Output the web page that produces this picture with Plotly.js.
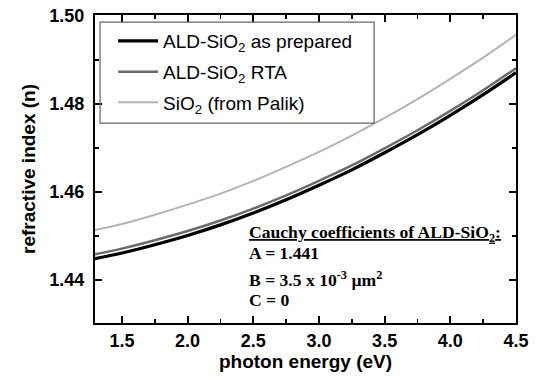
<!DOCTYPE html>
<html>
<head>
<meta charset="utf-8">
<script src="https://cdn.plot.ly/plotly-3.0.1.min.js"></script>
<style>html,body{margin:0;padding:0;background:#fff;}#chart{width:537px;height:378px;}</style>
</head>
<body>
<div id="chart"></div>
<script>
// photon energy (eV)
const energy = [1.29, 1.5, 1.75, 2.0, 2.25, 2.5, 2.75, 3.0, 3.25, 3.5, 3.75, 4.0, 4.25, 4.5];
// refractive index
const nAsPrepared = [1.4448, 1.4461, 1.4480, 1.4501, 1.4525, 1.4552, 1.4582, 1.4615, 1.4650, 1.4689, 1.4730, 1.4774, 1.4821, 1.4871];
const nRTA        = [1.4458, 1.4471, 1.4490, 1.4511, 1.4535, 1.4562, 1.4592, 1.4625, 1.4660, 1.4699, 1.4740, 1.4784, 1.4831, 1.4881];
const nPalik      = [1.4513, 1.4527, 1.4548, 1.4571, 1.4596, 1.4625, 1.4657, 1.4691, 1.4728, 1.4768, 1.4811, 1.4857, 1.4905, 1.4957];

const seriesNames = ['ALD-SiO<sub>2</sub> as prepared', 'ALD-SiO<sub>2</sub> RTA', 'SiO<sub>2</sub> (from Palik)'];
const noteLines = [
  '<u>Cauchy coefficients of ALD-SiO<sub>2</sub>:</u>',
  'A = 1.441',
  'B = 3.5 x 10<sup>-3</sup> µm<sup>2</sup>',
  'C = 0'
];

const traces = [
  {x: energy, y: nAsPrepared, name: seriesNames[0], mode: 'lines', line: {color: '#000000', width: 3.2, shape: 'spline'}, legendgroup: 'a'},
  {x: energy, y: nRTA, name: seriesNames[1], mode: 'lines', line: {color: '#6b6b6b', width: 2.5, shape: 'spline'}, legendgroup: 'b'},
  {x: energy, y: nPalik, name: seriesNames[2], mode: 'lines', line: {color: '#b4b4b4', width: 2, shape: 'spline'}, legendgroup: 'c'}
];

const tickFont = {family: 'Liberation Sans, Arial, sans-serif', size: 18, color: '#000', weight: 'bold'};
const titleFont = {family: 'Liberation Sans, Arial, sans-serif', size: 19, color: '#000', weight: 'bold'};

const noteY = [0.292, 0.227, 0.143, 0.075];
const annotations = noteLines.map((t, i) => ({
  text: t, xref: 'paper', yref: 'paper', x: 0.361, y: noteY[i],
  xanchor: 'left', yanchor: 'middle', showarrow: false,
  font: {family: 'Liberation Serif, Times New Roman, serif', size: 17.6, color: '#000', weight: 'bold'}
}));

const layout = {
  width: 537, height: 378,
  margin: {l: 95, r: 21, t: 15, b: 55},
  paper_bgcolor: '#fff', plot_bgcolor: '#fff',
  showlegend: true,
  legend: {
    x: 0.043, y: 0.977, xanchor: 'left', yanchor: 'top',
    bgcolor: 'rgba(255,255,255,0)', borderwidth: 0,
    font: {family: 'Liberation Sans, Arial, sans-serif', size: 19, color: '#000'},
    itemwidth: 40, traceorder: 'grouped', tracegroupgap: 3
  },
  shapes: [{
    type: 'rect', xref: 'paper', yref: 'paper',
    x0: 0.012, x1: 0.663, y0: 0.649, y1: 0.977,
    line: {color: '#666', width: 1.2}, fillcolor: 'rgba(0,0,0,0)', layer: 'above'
  }],
  xaxis: {
    range: [1.295, 4.5], dtick: 0.5, tick0: 1.5, tickformat: '.1f',
    ticks: 'inside', ticklen: 7, tickwidth: 1.8, tickcolor: '#000',
    minor: {dtick: 0.25, ticks: 'inside', ticklen: 4, tickwidth: 1.5, tickcolor: '#000'},
    showline: true, linewidth: 2, linecolor: '#000', mirror: 'ticks',
    showgrid: false, zeroline: false,
    tickfont: tickFont,
    title: {text: 'photon energy (eV)', font: titleFont, standoff: 3}
  },
  yaxis: {
    range: [1.4302, 1.5002], dtick: 0.02, tick0: 1.44, tickformat: '.2f',
    ticks: 'inside', ticklen: 7, tickwidth: 1.8, tickcolor: '#000',
    minor: {dtick: 0.01, ticks: 'inside', ticklen: 4, tickwidth: 1.5, tickcolor: '#000'},
    showline: true, linewidth: 2, linecolor: '#000', mirror: 'ticks',
    showgrid: false, zeroline: false,
    tickfont: tickFont, ticklabelstandoff: 5,
    title: {text: 'refractive index (n)', font: titleFont, standoff: 9}
  },
  annotations: annotations
};

Plotly.newPlot('chart', traces, layout, {displayModeBar: false, staticPlot: true});
</script>
</body>
</html>
